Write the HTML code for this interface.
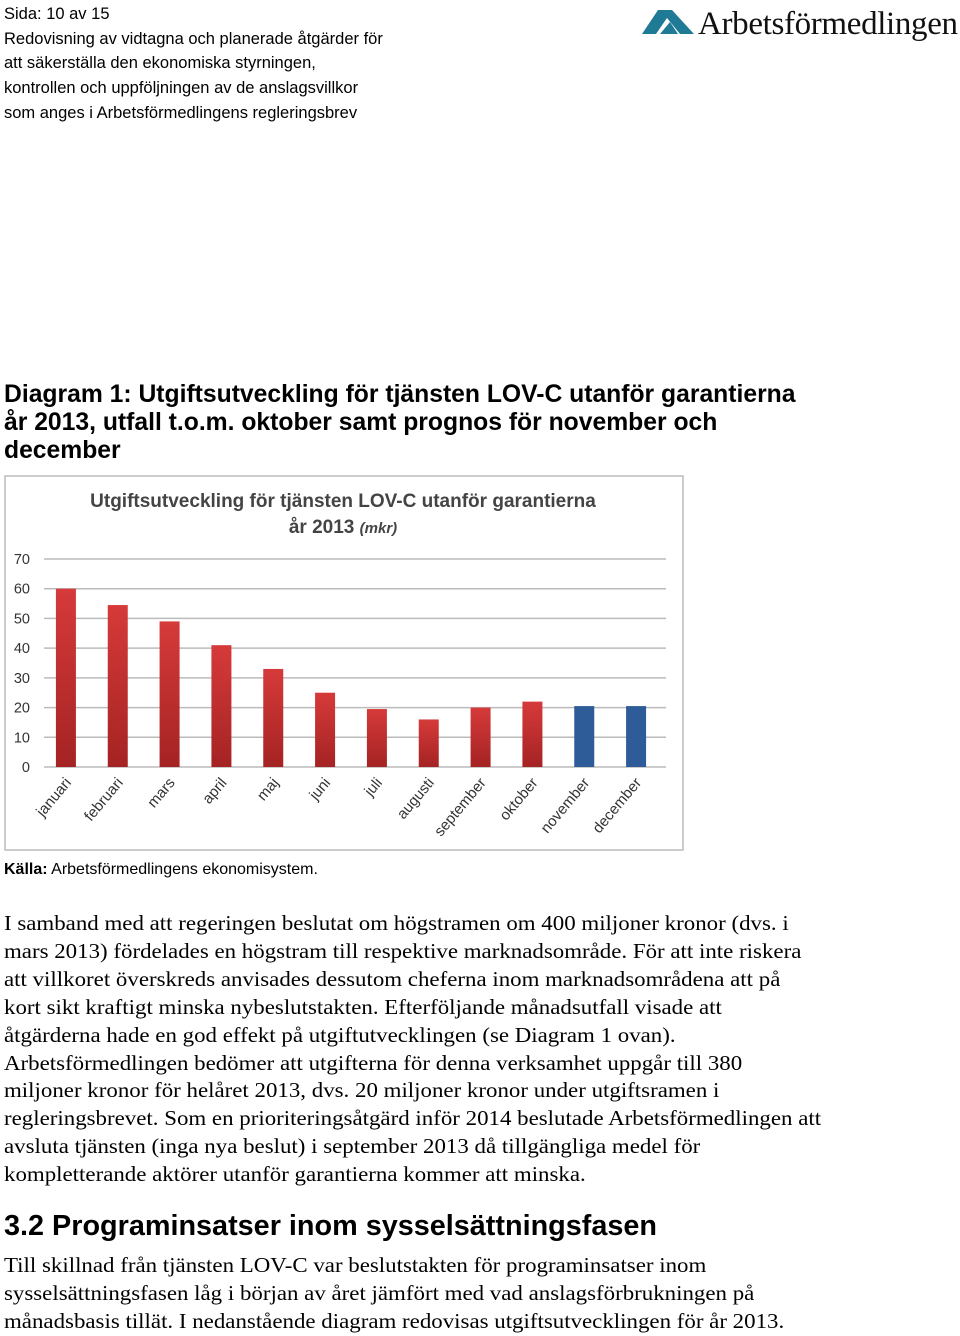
<!DOCTYPE html>
<html><head><meta charset="utf-8"><style>
body{margin:0;width:960px;height:1335px;background:#fff;position:relative;overflow:hidden;font-family:"Liberation Sans",sans-serif;color:#000}
.abs{position:absolute;white-space:nowrap}
.hdr{left:4px;font-size:16.5px;line-height:24.7px;top:2px}
.ser{font-family:"Liberation Serif",serif;font-size:21.5px;line-height:27.9px;left:4px;transform-origin:0 0;transform:scaleX(1.065)}
</style></head><body>
<div class="abs hdr">Sida: 10 av 15<br>Redovisning av vidtagna och planerade åtgärder för<br>att säkerställa den ekonomiska styrningen,<br>kontrollen och uppföljningen av de anslagsvillkor<br>som anges i Arbetsförmedlingens regleringsbrev</div>
<div class="abs" style="left:642px;top:4px">
<svg width="320" height="40"><path d="M0 30 L16 6 L30 6 L52 30 L38 30 L25 14 L14 30 Z" fill="#1f7a96"/><path d="M18 30 L28 18 L36 30Z" fill="#1f7a96"/><text x="56" y="30" font-family="Liberation Serif,serif" font-size="33" fill="#111" textLength="260">Arbetsförmedlingen</text></svg></div>
<div class="abs" style="left:4px;top:381px;font-size:24.7px;font-weight:bold;line-height:28px">Diagram 1: Utgiftsutveckling för tjänsten LOV-C utanför garantierna<br>år 2013, utfall t.o.m. oktober samt prognos för november och<br>december</div>
<svg class="abs" style="left:0;top:470px" width="690" height="385" id="chart"></svg>
<div class="abs" style="left:4px;top:861px;font-size:16px"><b>Källa:</b> Arbetsförmedlingens ekonomisystem.</div>
<div class="abs ser" style="top:910px">I samband med att regeringen beslutat om högstramen om 400 miljoner kronor (dvs. i<br>mars 2013) fördelades en högstram till respektive marknadsområde. För att inte riskera<br>att villkoret överskreds anvisades dessutom cheferna inom marknadsområdena att på<br>kort sikt kraftigt minska nybeslutstakten. Efterföljande månadsutfall visade att<br>åtgärderna hade en god effekt på utgiftutvecklingen (se Diagram 1 ovan).<br>Arbetsförmedlingen bedömer att utgifterna för denna verksamhet uppgår till 380<br>miljoner kronor för helåret 2013, dvs. 20 miljoner kronor under utgiftsramen i<br>regleringsbrevet. Som en prioriteringsåtgärd inför 2014 beslutade Arbetsförmedlingen att<br>avsluta tjänsten (inga nya beslut) i september 2013 då tillgängliga medel för<br>kompletterande aktörer utanför garantierna kommer att minska.</div>
<div class="abs" style="left:4px;top:1210px;font-size:28.8px;font-weight:bold">3.2 Programinsatser inom sysselsättningsfasen</div>
<div class="abs ser" style="top:1252px">Till skillnad från tjänsten LOV-C var beslutstakten för programinsatser inom<br>sysselsättningsfasen låg i början av året jämfört med vad anslagsförbrukningen på<br>månadsbasis tillät. I nedanstående diagram redovisas utgiftsutvecklingen för år 2013.</div>
<script>
const months=["januari","februari","mars","april","maj","juni","juli","augusti","september","oktober","november","december"];
const values=[60,54.5,49,41,33,25,19.5,16,20,22,20.5,20.5];
const forecast=[false,false,false,false,false,false,false,false,false,false,true,true];
const yTicks=[0,10,20,30,40,50,60,70];
const NS="http://www.w3.org/2000/svg";
const svg=document.getElementById('chart');
function el(t,a,p){const e=document.createElementNS(NS,t);for(const k in a)e.setAttribute(k,a[k]);(p||svg).appendChild(e);return e;}
const x0=44,x1=666,yb=297,yt=89;
const y=v=>yb-(v/70)*(yb-yt);
const step=(x1-x0)/months.length;
const x=i=>x0+step*(i+0.5)-4;
const defs=el('defs',{});
const g1=el('linearGradient',{id:'red',x1:0,y1:0,x2:0,y2:1},defs);
el('stop',{offset:0,'stop-color':'#d63a3a'},g1);el('stop',{offset:1,'stop-color':'#a52323'},g1);
const frame=el('rect',{x:5,y:6,width:678,height:374,fill:'#fff',stroke:'#bbb','stroke-width':1.5});


const t1=el('text',{x:343,y:37,'text-anchor':'middle','font-size':19,'font-weight':'bold',fill:'#444'});
t1.textContent='Utgiftsutveckling för tjänsten LOV-C utanför garantierna';


const t2=el('text',{x:343,y:63,'text-anchor':'middle','font-size':19,'font-weight':'bold',fill:'#444'});
t2.innerHTML='år 2013 <tspan font-style="italic" font-size="15">(mkr)</tspan>';


yTicks.forEach(v=>{
 const l=el('line',{x1:x0,x2:x1,y1:y(v),y2:y(v),stroke:'#bbb','stroke-width':1.5});
 
 
 const t=el('text',{x:30,y:y(v)+5,'text-anchor':'end','font-size':14.5,fill:'#333'});
 t.textContent=v;
 
 
});
months.forEach((m,i)=>{
 const b=el('rect',{x:x(i)-10,y:y(values[i]),width:20,height:yb-y(values[i]),fill:forecast[i]?'#2e5c99':'url(#red)'});
 
 
 const t=el('text',{x:x(i)+6,y:yb+16,'text-anchor':'end','font-size':15,fill:'#333',transform:`rotate(-50 ${x(i)+6} ${yb+16})`});
 t.textContent=m;
 
 
});
</script>
</body></html>
